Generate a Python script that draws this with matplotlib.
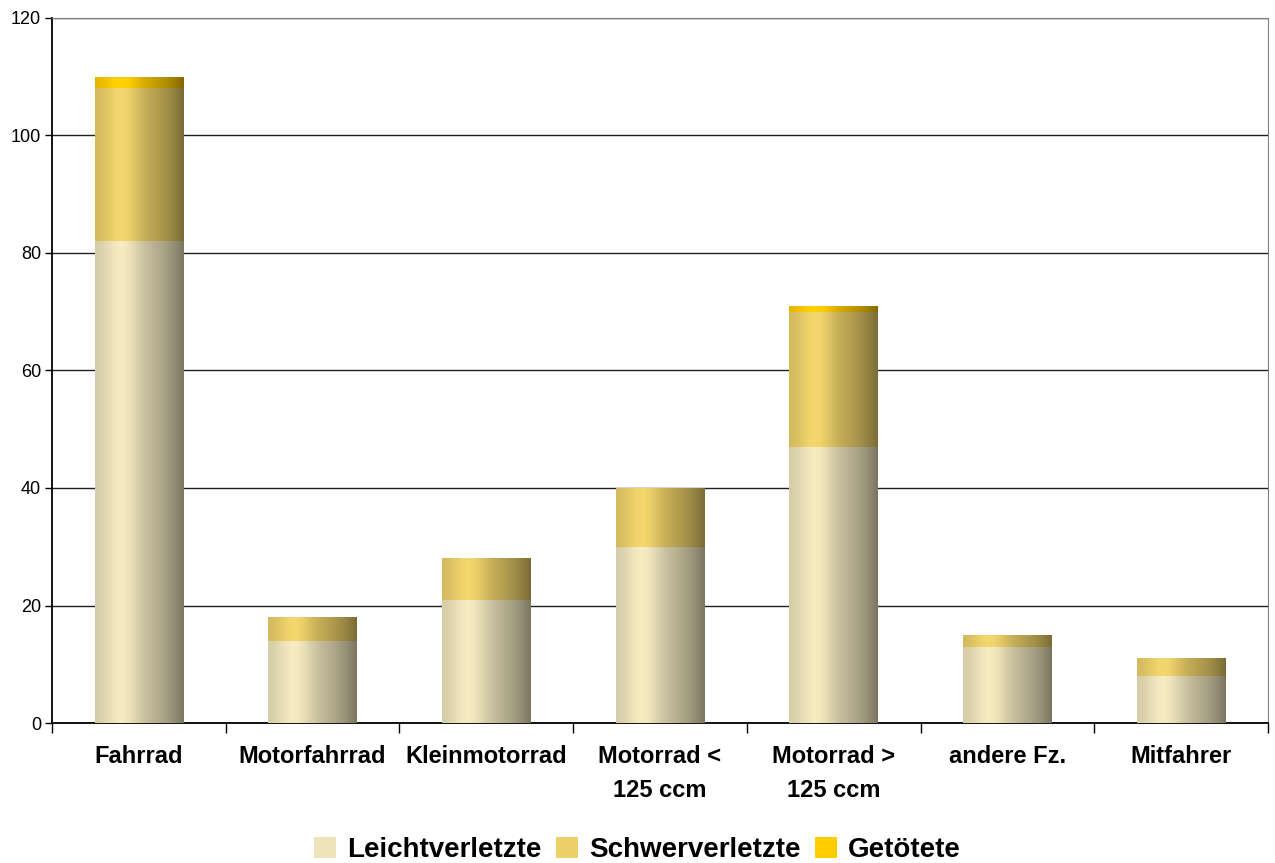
import numpy as np
import matplotlib
matplotlib.use("Agg")
import matplotlib.pyplot as plt
from matplotlib.colors import to_rgb
from matplotlib.patches import Patch

plt.rcParams["font.family"] = ["Liberation Sans", "DejaVu Sans"]

categories = ["Fahrrad", "Motorfahrrad", "Kleinmotorrad", "Motorrad <\n125 ccm",
              "Motorrad >\n125 ccm", "andere Fz.", "Mitfahrer"]
leicht = [82, 14, 21, 30, 47, 13, 8]
schwer = [26, 4, 7, 10, 23, 2, 3]
getoetet = [2, 0, 0, 0, 1, 0, 0]
series_names = ["Leichtverletzte", "Schwerverletzte", "Getötete"]
series_colors = ["#eee4bc", "#ecd06a", "#ffcc00"]

fig = plt.figure(figsize=(12.75, 8.63), dpi=100)
ax = fig.add_axes([52 / 1275, 1 - 723 / 863, (1268 - 52) / 1275, (723 - 18) / 863])

x = np.arange(len(categories))
width = 0.51

# cylinder-like shading profile across the bar width
profile_x = np.linspace(0, 1, 64)
shade = 0.88 + 0.16 * np.exp(-((profile_x - 0.3) / 0.2) ** 2) - 0.36 * profile_x ** 3


def shaded(bars, color):
    base = np.array(to_rgb(color))
    img = np.clip(shade[None, :, None] * base[None, None, :], 0, 1)
    for bar in bars:
        h = bar.get_height()
        if h <= 0:
            continue
        x0, y0 = bar.get_x(), bar.get_y()
        im = ax.imshow(img, extent=(x0, x0 + bar.get_width(), y0, y0 + h),
                       aspect="auto", interpolation="bilinear", zorder=3)
        im.set_clip_path(bar)


bottom = np.zeros(len(categories))
for values, name, color in zip([leicht, schwer, getoetet], series_names, series_colors):
    bars = ax.bar(x, values, width, bottom=bottom, color=color, linewidth=0, zorder=2, label=name)
    shaded(bars, color)
    bottom += np.array(values)

ax.set_xlim(-0.5, len(categories) - 0.5)
ax.set_ylim(0, 120)
ax.set_yticks(range(0, 121, 20))
ax.yaxis.grid(True, color="#202020", linewidth=1.0, zorder=1)
ax.set_axisbelow(True)

ax.set_xticks(x)
ax.set_xticklabels(categories, fontsize=17, fontweight="bold", linespacing=1.6)
ax.tick_params(axis="x", length=0, pad=16)
ax.set_xticks(np.arange(-0.5, len(categories), 1), minor=True)
ax.tick_params(axis="x", which="minor", length=7, width=1, color="black")
ax.tick_params(axis="y", labelsize=13, length=5, width=1, pad=3)

for side in ["top", "right"]:
    ax.spines[side].set_color("#808080")
for side in ["left", "bottom"]:
    ax.spines[side].set_color("black")
    ax.spines[side].set_linewidth(1.3)

handles = [Patch(facecolor=c, edgecolor="none") for c in series_colors]
fig.legend(handles, series_names, loc="center", bbox_to_anchor=(0.5, 1 - 850 / 863),
           ncol=3, frameon=False, prop={"size": 20, "weight": "bold"},
           handlelength=0.8, handleheight=0.8, handletextpad=0.4, columnspacing=0.5)

fig.savefig("out.png", dpi=100)
